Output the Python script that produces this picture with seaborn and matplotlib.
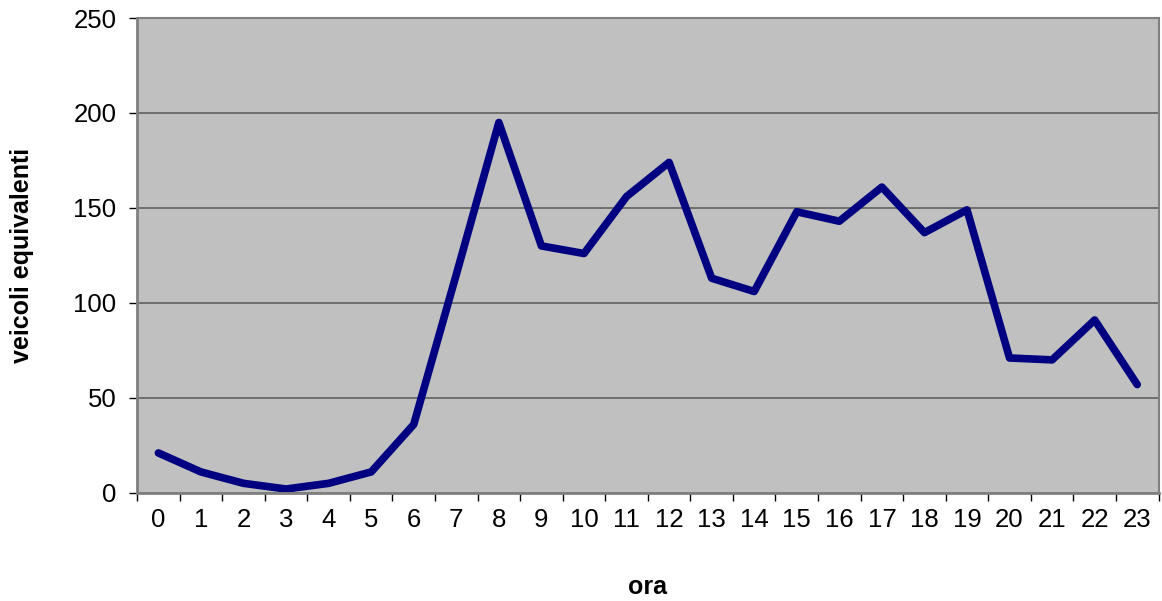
import numpy as np
import pandas as pd
import matplotlib.pyplot as plt
import seaborn as sns

ore = list(range(24))
veicoli = [21, 11, 5, 2, 5, 11, 36, 115, 195, 130, 126, 156, 174, 113, 106,
           148, 143, 161, 137, 149, 71, 70, 91, 57]

df = pd.DataFrame({'ora': ore, 'veicoli': veicoli})

sns.set_style('white')
plt.rcParams['font.family'] = ['Liberation Sans', 'DejaVu Sans']
plt.rcParams['text.color'] = 'black'
plt.rcParams['xtick.color'] = 'black'
plt.rcParams['ytick.color'] = 'black'
plt.rcParams['axes.labelcolor'] = 'black'

fig = plt.figure(figsize=(11.62, 6.01), dpi=100)
ax = fig.add_axes([0.118, 0.18, 0.879, 0.79])
ax.set_facecolor('#C0C0C0')

sns.lineplot(data=df, x='ora', y='veicoli', color='#000080', linewidth=5.5,
             solid_joinstyle='round', solid_capstyle='round', ax=ax)

ax.set_xlim(-0.5, 23.5)
ax.set_ylim(0, 250)
ax.set_yticks(range(0, 251, 50))
ax.yaxis.grid(True, color='#606060', linewidth=1.2)
ax.set_axisbelow(True)

# category labels centred, tick marks on the boundaries
ax.set_xticks(ore)
ax.set_xticklabels([str(o) for o in ore])
ax.set_xticks(np.arange(-0.5, 24, 1), minor=True)
ax.tick_params(axis='x', which='major', bottom=True, length=0, pad=11, labelsize=18.5)
ax.tick_params(axis='x', which='minor', bottom=True, length=6, width=1, color='black', direction='out')
ax.tick_params(axis='y', left=True, length=6, width=1, color='black', direction='out', pad=9, labelsize=18.5)

for side in ['left', 'bottom']:
    ax.spines[side].set_color('#808080')
    ax.spines[side].set_linewidth(2)
for side in ['right', 'top']:
    ax.spines[side].set_color('#808080')
    ax.spines[side].set_linewidth(1.5)

ax.set_xlabel('ora', fontsize=18, fontweight='bold', labelpad=31)
ax.set_ylabel('veicoli equivalenti', fontsize=18, fontweight='bold', labelpad=28)

plt.savefig('out.png', dpi=100)
